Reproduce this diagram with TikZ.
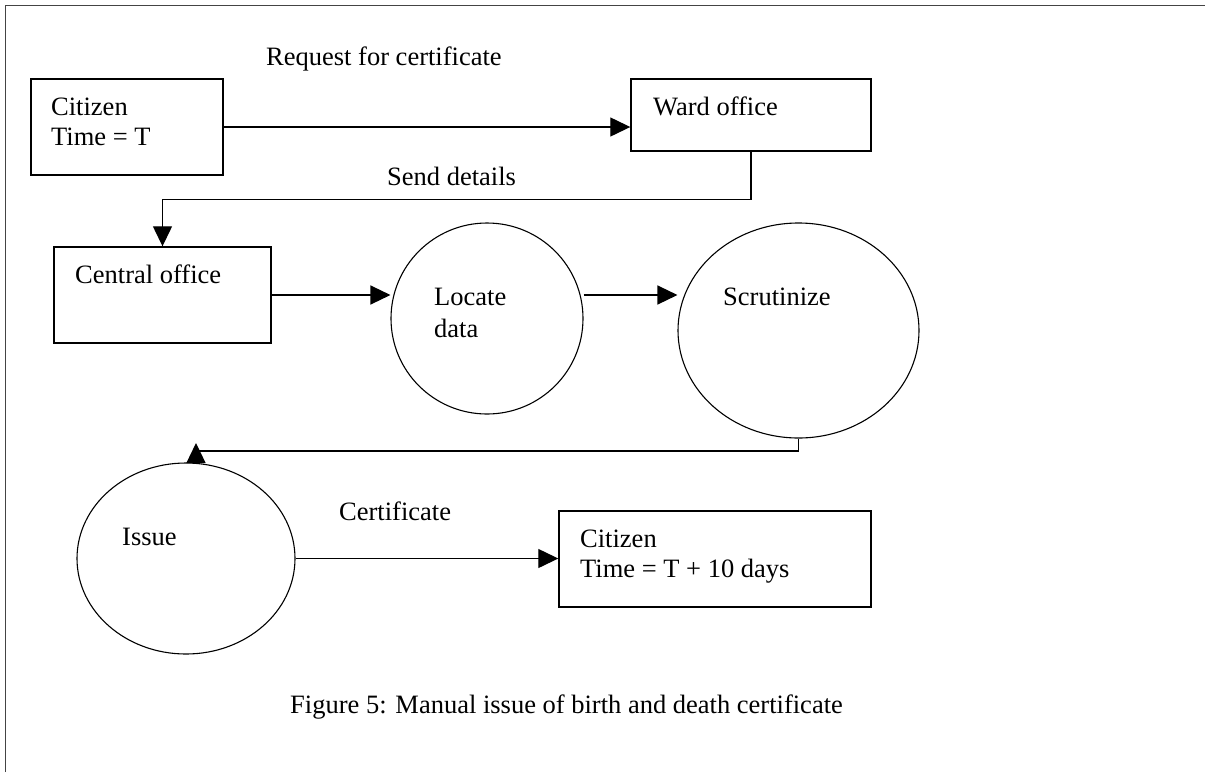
\documentclass[tikz,border=0pt]{standalone}
\usepackage{fontspec}
\setmainfont{Liberation Serif}
\usetikzlibrary{arrows.meta,shapes.geometric}

\definecolor{framegray}{RGB}{68,68,68}

\tikzset{
  boxnode/.style={draw=black, line width=1.4pt, rectangle, inner sep=0pt},
  procnode/.style={draw=black, line width=1.1pt, ellipse, inner sep=0pt},
  txt/.style={anchor=base west, inner sep=0pt, font=\fontsize{26.5}{30}\selectfont},
  flow/.style={line width=1.3pt, -{Triangle[length=20pt, width=19pt]}},
}

\begin{document}
\begin{tikzpicture}[x=1pt, y=-1pt]
\useasboundingbox (0,0) rectangle (1205,772);

% open frame (top and left edges only)
\draw[framegray, line width=1.7pt] (5.5,772) -- (5.5,5.5) -- (1205,5.5);

% boxes
\node[boxnode, minimum width=192pt, minimum height=96pt] (cit1) at (127,127) {};
\node[boxnode, minimum width=240pt, minimum height=72pt] (ward) at (751,115) {};
\node[boxnode, minimum width=217pt, minimum height=96pt] (central) at (162.5,295) {};
\node[boxnode, minimum width=312pt, minimum height=96pt] (cit2) at (715,559) {};

% processes
\node[procnode, minimum width=192pt, minimum height=191pt] (locate) at (487,318.5) {};
\node[procnode, minimum width=241pt, minimum height=215pt] (scrut) at (798.5,330.5) {};
\node[procnode, minimum width=218pt, minimum height=191pt] (issue) at (186,558.5) {};

% texts
\node[txt] (tcit1a) at (51,115) {Citizen};
\node[txt] (tcit1b) at (51,145) {Time = T};
\node[txt] (tward) at (653,115) {Ward office};
\node[txt] (tcentral) at (75,283) {Central office};
\node[txt] (tlocA) at (434,305) {Locate};
\node[txt] (tlocB) at (434,337) {data};
\node[txt] (tscrut) at (723,305) {Scrutinize};
\node[txt] (tissue) at (122,545) {Issue};
\node[txt] (tcit2a) at (580,547) {Citizen};
\node[txt] (tcit2b) at (580,577) {Time = T + 10 days};

% connector labels
\node[txt] (lreq) at (266,65) {Request for certificate};
\node[txt] (lsend) at (387,185) {Send details};
\node[txt] (lcert) at (339,520) {Certificate};

% caption
\node[txt] (caption) at (290,713) {Figure 5: Manual issue of birth and death certificate};

% connectors
\draw[flow] (cit1.east) -- (cit1.east -| ward.west);
\draw[flow] (ward.south) -- ++(0,47.5) -| (central.north);
\draw[flow] (central.east) -- (central.east -| locate.west);
\draw[flow] (locate.east |- central.east) -- (scrut.west |- central.east);
\coordinate (issuetip) at (196,443);
\draw[flow] (scrut.south) -- ++(0,12.5) -| (issuetip);
\draw[flow] (issue.east) -- (issue.east -| cit2.west);

\end{tikzpicture}
\end{document}
